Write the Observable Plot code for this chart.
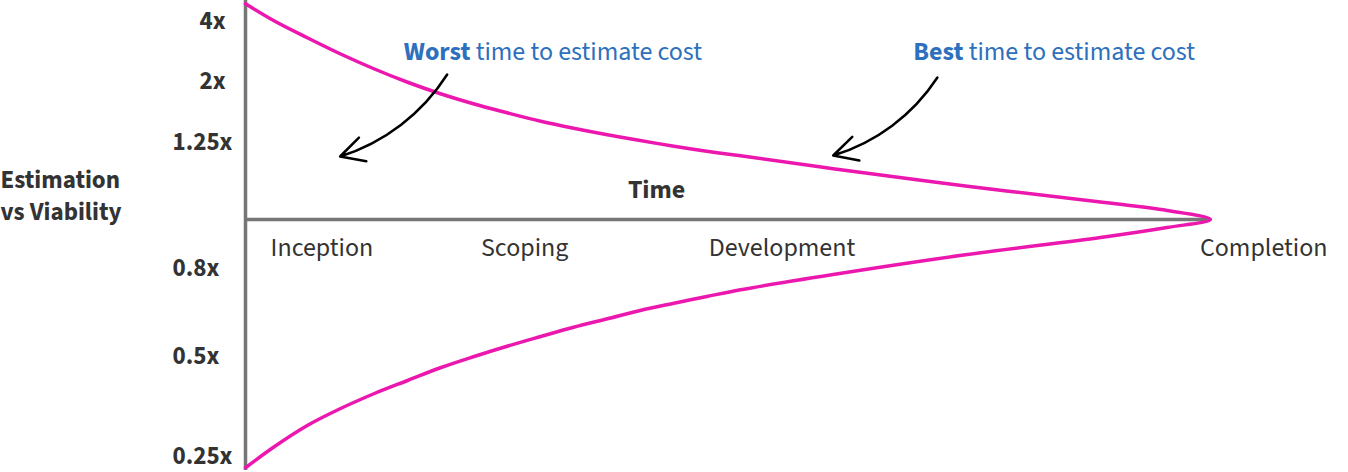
<!DOCTYPE html>
<html>
<head>
<meta charset="utf-8">
<script src="https://cdn.jsdelivr.net/npm/d3@7"></script>
<script src="https://cdn.jsdelivr.net/npm/@observablehq/plot@0.6"></script>
<style>
  html, body { margin: 0; padding: 0; background: #fff; }
  #chart svg { display: block; }
</style>
</head>
<body>
<div id="chart"></div>
<script>
// ---- Data ----
// Time runs 0 (project start) to 1 (completion); v is the spread of the estimate around 1x.
const upperT = [0, 0.029, 0.064, 0.098, 0.133, 0.168, 0.202, 0.236, 0.271, 0.306, 0.340, 0.375, 0.409, 0.444, 0.478, 0.513, 0.609, 0.748, 0.886, 0.955, 1];
const upperV = [0.863, 0.796, 0.727, 0.663, 0.603, 0.549, 0.503, 0.463, 0.427, 0.393, 0.365, 0.339, 0.316, 0.293, 0.273, 0.255, 0.203, 0.133, 0.07, 0.036, 0];
const lowerT = [0, 0.029, 0.064, 0.098, 0.133, 0.168, 0.202, 0.237, 0.271, 0.306, 0.340, 0.375, 0.409, 0.444, 0.478, 0.513, 0.609, 0.748, 0.886, 0.955, 1];
const lowerV = [-0.993, -0.911, -0.824, -0.757, -0.697, -0.644, -0.593, -0.548, -0.507, -0.468, -0.431, -0.397, -0.364, -0.335, -0.308, -0.281, -0.22, -0.14, -0.072, -0.032, 0];

const phases = ["Inception", "Scoping", "Development", "Completion"];
const phaseT = [0.026, 0.244, 0.48, 0.989];

const tickLabelsA = ["4x", "2x"];
const tickValuesA = [0.796, 0.556];
const tickLabelsB = ["1.25x", "0.8x", "0.5x", "0.25x"];
const tickValuesB = [0.312, -0.192, -0.544, -0.944];

const noteWords = ["Worst", "Best"];
const noteRest = " time to estimate cost";
const noteT = [0.164, 0.692];
const noteV = [0.672, 0.672];

const arrowT1 = [0.209, 0.717];
const arrowV1 = [0.58, 0.568];
const arrowT2 = [0.098, 0.609];
const arrowV2 = [0.252, 0.256];

const axisTitle = "Estimation\nvs Viability";
const timeTitle = "Time";
const timeT = 0.426, timeV = 0.12;

// ---- Build tables ----
const outline = [
  ...upperT.map((t, i) => ({t, v: upperV[i]})),
  ...lowerT.map((t, i) => ({t, v: lowerV[i]})).reverse().slice(1)
];
const phaseData = phases.map((name, i) => ({name, t: phaseT[i]}));
const noteData = noteWords.map((w, i) => ({text: w + noteRest, t: noteT[i], v: noteV[i]}));
const arrowData = arrowT1.map((t, i) => ({t1: t, v1: arrowV1[i], t2: arrowT2[i], v2: arrowV2[i]}));
const labA = new Map(tickValuesA.map((v, i) => [v, tickLabelsA[i]]));
const labB = new Map(tickValuesB.map((v, i) => [v, tickLabelsB[i]]));

const FONT = "'Source Sans Pro', 'Source Sans 3', Lato, sans-serif";
const GRAY = "#767676";
const PINK = "#ec17ae";
const BLUE = "#2d70bd";
const INK = "#333333";

const chart = Plot.plot({
  width: 1348,
  height: 472,
  marginLeft: 245,
  marginRight: 138,
  marginTop: 0,
  marginBottom: 0,
  x: {domain: [0, 1], axis: null},
  y: {domain: [-1.012, 0.876], axis: null},
  style: {fontFamily: FONT, background: "#fff", overflow: "visible"},
  marks: [
    Plot.ruleX([0], {y1: 0.876, y2: -1.004, stroke: GRAY, strokeWidth: 3.5}),
    Plot.ruleY([0], {x1: 0, x2: 1, stroke: GRAY, strokeWidth: 3.5}),
    Plot.axisY(tickValuesA, {tickSize: 0, tickFormat: d => labA.get(d), textAnchor: "start", dx: -37,
      fontSize: 25, fontWeight: "bold", fill: INK}),
    Plot.axisY(tickValuesB, {tickSize: 0, tickFormat: d => labB.get(d), textAnchor: "start", dx: -64,
      fontSize: 25, fontWeight: "bold", fill: INK}),
    Plot.line(outline, {x: "t", y: "v", curve: "catmull-rom", stroke: PINK, strokeWidth: 3.5}),
    Plot.text(phaseData, {x: "t", y: () => 0, text: "name", textAnchor: "start", dy: 28,
      fontSize: 26, fill: INK}),
    Plot.text([timeTitle], {x: () => timeT, y: () => timeV, text: d => d, fontSize: 26,
      fontWeight: "bold", fill: INK}),
    Plot.text([axisTitle], {frameAnchor: "left", y: () => 0.104, dx: -245, text: d => d,
      textAnchor: "start", lineHeight: 1.3, fontSize: 25, fontWeight: "bold", fill: INK}),
    Plot.text(noteData, {x: "t", y: "v", text: "text", textAnchor: "start", fontSize: 26, fill: BLUE,
      className: "note"}),
    Plot.arrow(arrowData, {x1: "t1", y1: "v1", x2: "t2", y2: "v2", bend: 20, stroke: "#000",
      strokeWidth: 2.5, headLength: 16, headAngle: 55})
  ]
});

// Bold the first word of each annotation
d3.select(chart).selectAll("g.note text").each(function() {
  const s = this.textContent;
  const k = s.indexOf(" ");
  const el = d3.select(this);
  el.text(null);
  el.append("tspan").attr("font-weight", "bold").text(s.slice(0, k));
  el.append("tspan").text(s.slice(k));
});

document.getElementById("chart").appendChild(chart);
</script>
</body>
</html>
